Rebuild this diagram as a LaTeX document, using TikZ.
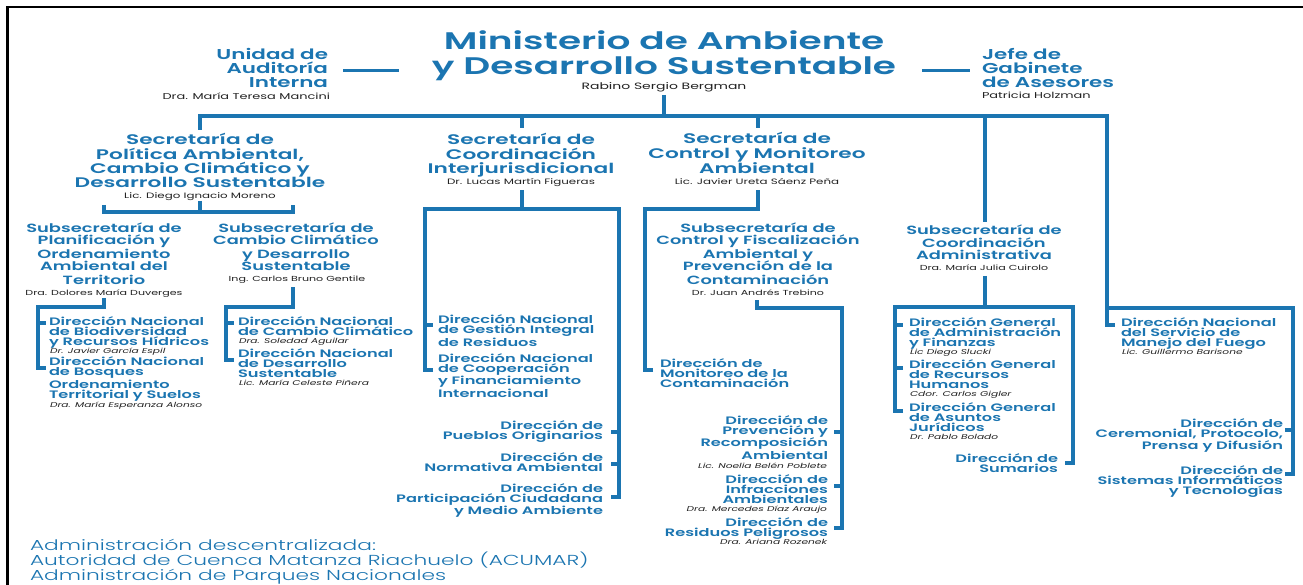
\documentclass[tikz,border=0pt]{standalone}
\usepackage{fontspec}
\setmainfont{Poppins}[FakeStretch=1.52]
\newfontfamily\hd{Poppins SemiBold}[FakeStretch=1.5]
\newfontfamily\hdw{Poppins SemiBold}[FakeStretch=1.56]
\newfontfamily\lt{Poppins Light}[FakeStretch=1.5]
\definecolor{mblue}{HTML}{1B75B1}
\definecolor{ntext}{HTML}{222222}
\begin{document}
\begin{tikzpicture}[x=1pt,y=-1pt,
  every node/.style={inner sep=0pt, outer sep=0pt},
  ttl/.style={anchor=base, align=center, text=mblue, font=\hdw\fontsize{24}{25}\selectfont},
  side/.style={text=mblue, font=\hd\fontsize{14.3}{14}\selectfont},
  sec/.style={anchor=base, align=center, text=mblue, font=\hdw\fontsize{13.9}{14.3}\selectfont},
  sub/.style={anchor=base, align=center, text=mblue, font=\hd\fontsize{11.9}{13}\selectfont},
  dirL/.style={anchor=base west, align=left, text=mblue, font=\hd\fontsize{10.8}{10}\selectfont},
  dirR/.style={anchor=base east, align=right, text=mblue, font=\hd\fontsize{10.8}{10}\selectfont},
  nm/.style={anchor=base, text=ntext, font=\fontsize{7.8}{9}\selectfont},
  nmi/.style={anchor=base west, text=ntext, font=\itshape\fontsize{7}{8}\selectfont},
  nmiR/.style={anchor=base east, text=ntext, font=\itshape\fontsize{7}{8}\selectfont},
  ln/.style={draw=mblue, line width=3.8pt},
  tk/.style={draw=mblue, line width=3.2pt}
]
\useasboundingbox (0,0) rectangle (1303,585);
\fill[white] (0,0) rectangle (1303,585);
\draw[black, line width=2.8pt] (7.5,585) -- (7.5,7) -- (1303,7);

% ---------- top level ----------
\node[ttl] (min) at (664,75) {Ministerio de Ambiente\\y Desarrollo Sustentable};
\node[nm, font=\fontsize{9.2}{10}\selectfont] (minN) at (664,89.5) {Rabino Sergio Bergman};
\node[side, anchor=base east, align=right] (uai) at (328,88) {Unidad de\\Auditoría\\Interna};
\node[nm, anchor=base east, font=\fontsize{8.5}{9}\selectfont] (uaiN) at (330,100) {Dra. María Teresa Mancini};
\node[side, anchor=base west, align=left] (jga) at (982,88) {Jefe de\\Gabinete\\de Asesores};
\node[nm, anchor=base west, font=\fontsize{8.5}{9}\selectfont] (jgaN) at (982,99) {Patricia Holzman};

\coordinate (uaiR) at (343,71);
\coordinate (minL) at (399,71);
\coordinate (minR) at (922,71);
\coordinate (jgaL) at (970,71);
\draw[ln, line width=3pt] (uaiR) -- (minL);
\draw[ln, line width=3pt] (minR) -- (jgaL);

% ---------- secretarias ----------
\node[sec] (s1) at (200,187.9) {Secretaría de\\Política Ambiental,\\Cambio Climático y\\Desarrollo Sustentable};
\node[nm] (s1N) at (200,199) {Lic. Diego Ignacio Moreno};
\node[sec] (s2) at (521,173.6) {Secretaría de\\Coordinación\\Interjurisdicional};
\node[nm] (s2N) at (521,185) {Dr. Lucas Martín Figueras};
\node[sec] (s3) at (757,173.6) {Secretaría de\\Control y Monitoreo\\Ambiental};
\node[nm] (s3N) at (757,185) {Lic. Javier Ureta Sáenz Peña};

% ---------- subsecretarias ----------
\node[sub] (ss1) at (104,284) {Subsecretaría de\\Planificación y\\Ordenamiento\\Ambiental del\\Territorio};
\node[nm, font=\fontsize{7.3}{9}\selectfont] (ss1N) at (104,295) {Dra. Dolores María Duverges};
\node[sub] (ss2) at (296,271) {Subsecretaría de\\Cambio Climático\\y Desarrollo\\Sustentable};
\node[nm, font=\fontsize{7.3}{9}\selectfont] (ss2N) at (297,282) {Ing. Carlos Bruno Gentile};
\node[sub] (ss3) at (758,284) {Subsecretaría de\\Control y Fiscalización\\Ambiental y\\Prevención de la\\Contaminación};
\node[nm, font=\fontsize{7.3}{9}\selectfont] (ss3N) at (758,295) {Dr. Juan Andrés Trebino};
\node[sub, font=\hd\fontsize{11.9}{12.5}\selectfont] (ss4) at (984,260) {Subsecretaría de\\Coordinación\\Administrativa};
\node[nm, font=\fontsize{7.3}{9}\selectfont] (ss4N) at (984,270) {Dra. María Julia Cuirolo};

% ---------- direcciones column 1 ----------
\node[dirL] (d11) at (49,345) {Dirección Nacional\\de Biodiversidad\\y Recursos Hídricos};
\node[nmi] (d11N) at (50,353.5) {Dr. Javier García Espil};
\node[dirL] (d12) at (49,398) {Dirección Nacional\\de Bosques\\Ordenamiento\\Territorial y Suelos};
\node[nmi] (d12N) at (50,407.5) {Dra. María Esperanza Alonso};
\node[dirL] (d21) at (238,335) {Dirección Nacional\\de Cambio Climático};
\node[nmi] (d21N) at (239,343.5) {Dra. Soledad Aguilar};
\node[dirL] (d22) at (238,377) {Dirección Nacional\\de Desarrollo\\Sustentable};
\node[nmi] (d22N) at (239,385.5) {Lic. María Celeste Piñera};

% ---------- column 2 ----------
\node[dirL] (c1) at (438,346) {Dirección Nacional\\de Gestión Integral\\de Residuos};
\node[dirL] (c2) at (438,397) {Dirección Nacional\\de Cooperación\\y Financiamiento\\Internacional};
\node[dirR] (c3) at (603,439) {Dirección de\\Pueblos Originarios};
\node[dirR] (c4) at (603,471.5) {Dirección de\\Normativa Ambiental};
\node[dirR] (c5) at (603,514.5) {Dirección de\\Participación Ciudadana\\y Medio Ambiente};

% ---------- column 3 ----------
\node[dirL] (m1) at (660,387) {Dirección de\\Monitoreo de la\\Contaminación};
\node[dirR] (m2) at (828,459) {Dirección de\\Prevención y\\Recomposición\\Ambiental};
\node[nmiR] (m2N) at (827,468.5) {Lic. Noelia Belén Poblete};
\node[dirR] (m3) at (828,503) {Dirección de\\Infracciones\\Ambientales};
\node[nmiR] (m3N) at (827,511.5) {Dra. Mercedes Díaz Araujo};
\node[dirR] (m4) at (828,536) {Dirección de\\Residuos Peligrosos};
\node[nmiR] (m4N) at (827,544.5) {Dra. Ariana Rozenek};

% ---------- column 4 ----------
\node[dirL] (a1) at (909,346) {Dirección General\\de Administración\\y Finanzas};
\node[nmi] (a1N) at (910,354.5) {Lic Diego Slucki};
\node[dirL] (a2) at (909,388) {Dirección General\\de Recursos\\Humanos};
\node[nmi] (a2N) at (910,396.5) {Cdor. Carlos Gigler};
\node[dirL] (a3) at (909,431) {Dirección General\\de Asuntos\\Jurídicos};
\node[nmi] (a3N) at (910,439.5) {Dr. Pablo Bolado};
\node[dirR] (a4) at (1058,472) {Dirección de\\Sumarios};

% ---------- column 5 ----------
\node[dirL] (f1) at (1121,346) {Dirección Nacional\\del Servicio de\\Manejo del Fuego};
\node[nmi] (f1N) at (1122,354.5) {Lic. Guillermo Barisone};
\node[dirR] (f2) at (1283,449) {Dirección de\\Ceremonial, Protocolo,\\Prensa y Difusión};
\node[dirR] (f3) at (1283,494) {Dirección de\\Sistemas Informáticos\\y Tecnologías};

% ---------- bottom ----------
\node[anchor=base west, align=left, text=mblue, font=\lt\fontsize{14.5}{15}\selectfont] (desc) at (30,580)
  {Administración descentralizada:\\Autoridad de Cuenca Matanza Riachuelo (ACUMAR)\\Administración de Parques Nacionales};

% ---------- connectors ----------
\coordinate (minB) at (664,95);
\coordinate (busM) at (664,116);
\coordinate (bus1) at (200,116);
\coordinate (bus2) at (522,116);
\coordinate (bus3) at (758,116);
\coordinate (bus4) at (985,116);
\coordinate (bus5) at (1107,116);
\coordinate (s1T) at (200,130);
\coordinate (s2T) at (522,128);
\coordinate (s3T) at (758,128);
\coordinate (ss4T) at (985,222);
\coordinate (f1K) at (1107,325);
\draw[ln] (minB) -- (busM);
\draw[ln] (s1T) -- (bus1) -- (bus5) -- (f1K) -- ++(8,0);
\draw[ln] (bus2) -- (s2T);
\draw[ln] (bus3) -- (s3T);
\draw[ln] (bus4) -- (ss4T);

% col 1
\coordinate (s1B) at (200,201);
\coordinate (s1J) at (200,212);
\coordinate (ss1J) at (104,212);
\coordinate (ss2J) at (293,212);
\draw[ln] (s1B) -- (s1J);
\draw[ln] ([yshift=7]ss1J) -- (ss1J) -- (ss2J) -- ([yshift=7]ss2J);
\coordinate (ss1B) at (104,298);
\coordinate (ss1J2) at (104,307);
\coordinate (d1V) at (38,307);
\coordinate (d12K) at (38,368);
\coordinate (d11K) at (38,323);
\draw[ln] (ss1B) -- (ss1J2) -- (d1V) -- (d12K) -- ++(8,0);
\draw[tk] (d11K) -- ++(8,0);
\coordinate (ss2B) at (293,287);
\coordinate (ss2J2) at (293,307);
\coordinate (d2V) at (226,307);
\coordinate (d22K) at (226,360);
\coordinate (d21K) at (226,323);
\draw[ln] (ss2B) -- (ss2J2) -- (d2V) -- (d22K) -- ++(8,0);
\draw[tk] (d21K) -- ++(8,0);

% col 2
\coordinate (s2B) at (522,190);
\coordinate (s2J) at (522,209);
\coordinate (c2V) at (425,209);
\coordinate (c2K) at (425,370);
\coordinate (c1K) at (425,325);
\coordinate (cRV) at (619,209);
\coordinate (c5K) at (619,497);
\coordinate (c3K) at (619,432);
\coordinate (c4K) at (619,464);
\draw[ln] (s2B) -- (s2J);
\draw[ln] ([xshift=8]c2K) -- (c2K) -- (c2V) -- (cRV) -- (c5K) -- ++(-8,0);
\draw[tk] (c1K) -- ++(8,0);
\draw[tk] (c3K) -- ++(-8,0);
\draw[tk] (c4K) -- ++(-8,0);

% col 3
\coordinate (s3B) at (758,190);
\coordinate (s3J) at (758,209);
\coordinate (m1V) at (645,209);
\coordinate (m1K) at (645,370);
\draw[ln] ([xshift=8]m1K) -- (m1K) -- (m1V) -- (s3J) -- (s3B);
\coordinate (ss3B) at (757,300);
\coordinate (ss3J) at (757,308);
\coordinate (mRV) at (842,308);
\coordinate (m4K) at (842,528);
\coordinate (m2K) at (842,432);
\coordinate (m3K) at (842,486);
\draw[ln] (ss3B) -- (ss3J) -- (mRV) -- (m4K) -- ++(-8,0);
\draw[tk] (m2K) -- ++(-8,0);
\draw[tk] (m3K) -- ++(-8,0);

% col 4
\coordinate (ss4B) at (985,276);
\coordinate (ss4J) at (985,307);
\coordinate (aLV) at (895,307);
\coordinate (a3K) at (895,411);
\coordinate (a1K) at (895,325);
\coordinate (a2K) at (895,368);
\coordinate (aRV) at (1073,307);
\coordinate (a4K) at (1073,463);
\draw[ln] (ss4B) -- (ss4J);
\draw[ln] ([xshift=8]a3K) -- (a3K) -- (aLV) -- (aRV) -- (a4K) -- ++(-8,0);
\draw[tk] (a1K) -- ++(8,0);
\draw[tk] (a2K) -- ++(8,0);

% col 5
\coordinate (fJ) at (1107,308);
\coordinate (fRV) at (1293,308);
\coordinate (f3K) at (1293,474);
\coordinate (f2K) at (1293,430);
\draw[ln] (fJ) -- (fRV) -- (f3K) -- ++(-8,0);
\draw[tk] (f2K) -- ++(-8,0);
\end{tikzpicture}
\end{document}
